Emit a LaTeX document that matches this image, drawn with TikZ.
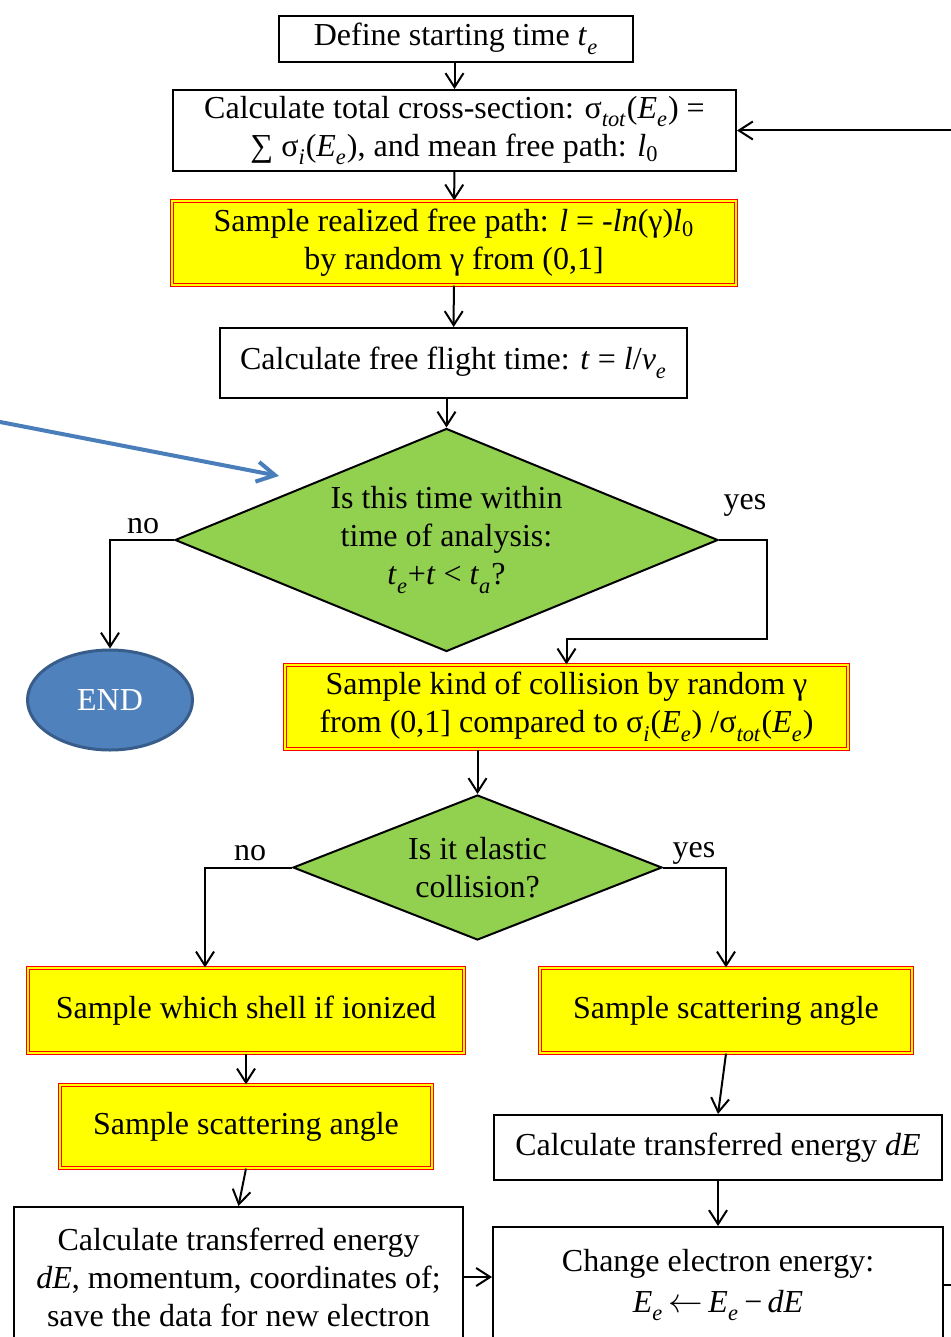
\documentclass[tikz,border=0pt]{standalone}
\usepackage{fontspec}
\setmainfont{Liberation Serif}
\usepackage{tikz}
\usetikzlibrary{arrows.meta,positioning,shapes,calc}
\definecolor{hlyellow}{HTML}{FFFF00}
\definecolor{decgreen}{HTML}{92D050}
\definecolor{endblue}{HTML}{4F81BD}
\definecolor{endrim}{HTML}{385D8A}
\definecolor{ptrblue}{HTML}{4A7EBB}
\newcommand{\isub}[1]{\raisebox{-0.1em}{\textsubscript{\textit{#1}}}}
\newcommand{\iv}[1]{\textit{#1}}

\begin{document}
\begin{tikzpicture}[x=0.5pt,y=-0.5pt,>={Straight Barb[length=7pt,width=9pt]}, every node/.style={font=\fontsize{16}{19}\selectfont}]
\tikzstyle{box}=[draw,line width=1pt,align=center,inner sep=0pt]
\tikzstyle{sbox}=[draw=red,line width=0.6pt,double=hlyellow,double distance=1.1pt,fill=hlyellow,align=center,inner sep=0pt]
\tikzstyle{dec}=[diamond,draw,line width=1pt,fill=decgreen,align=center,inner sep=0pt]
\tikzstyle{lbl}=[inner sep=0pt]
\tikzstyle{link}=[->,line width=1pt]
\path[use as bounding box,clip] (0,0) rectangle (951,1337);
% main column
\node[box,minimum width=177pt,minimum height=23pt] (start) at (456,39) {Define starting time \iv{t}\isub{e}};
\node[box,minimum width=281.5pt,minimum height=40.5pt] (xsec) at (454.5,130.5) {Calculate total cross-section: σ\isub{tot}(\iv{E}\isub{e}) =\\∑ σ\isub{i}(\iv{E}\isub{e}), and mean free path: \iv{l}\textsubscript{0}};
\node[sbox,minimum width=282pt,minimum height=42pt] (fpath) at (454,243) {Sample realized free path: \iv{l} = -\iv{ln}(γ)\iv{l}\textsubscript{0}\\by random γ from (0,1]};
\node[box,minimum width=233.5pt,minimum height=35pt] (flight) at (453.5,363) {Calculate free flight time: \iv{t} = \iv{l}/\iv{v}\isub{e}};
\node[dec,aspect=2.43,minimum width=271.5pt,minimum height=111.5pt] (within) at (446.5,540) {Is this time within\\time of analysis:\\\iv{t}\isub{e}+\iv{t} {<} \iv{t}\isub{a}?};
\node[ellipse,draw=endrim,line width=1.5pt,fill=endblue,text=white,minimum width=82.5pt,minimum height=50pt] (stop) at (110,700) {END};
\node[sbox,minimum width=281.5pt,minimum height=42pt] (kind) at (566.5,707) {Sample kind of collision by random γ\\from (0,1] compared to σ\isub{i}(\iv{E}\isub{e}) /σ\isub{tot}(\iv{E}\isub{e})};
\node[dec,aspect=2.55,minimum width=184.5pt,minimum height=72.5pt] (elastic) at (477.5,867.5) {Is it elastic\\collision?};
% two branches
\node[sbox,minimum width=218pt,minimum height=42.5pt] (shell) at (246,1010.5) {Sample which shell if ionized};
\node[sbox,minimum width=186pt,minimum height=42.5pt] (angr) at (726,1010.5) {Sample scattering angle};
\node[sbox,minimum width=186pt,minimum height=41.5pt] (angl) at (246,1126.5) {Sample scattering angle};
\node[box,minimum width=224pt,minimum height=32.5pt] (dEr) at (718,1147.5) {Calculate transferred energy \iv{dE}};
\node[box,minimum width=225pt,minimum height=58pt] (change) at (718,1285) {Change electron energy:\\[1.5pt]\iv{E}\isub{e}\,$\leftarrow$\,\iv{E}\isub{e}\,−\,\iv{dE}};
\node[box,minimum width=224.5pt,minimum height=70pt] (data) at (238.5,1277) {Calculate transferred energy\\\iv{dE}, momentum, coordinates of;\\save the data for new electron};
% labels
\node[lbl] (no1) at (143,526) {no};
\node[lbl] (yes1) at (745,505) {yes};
\node[lbl] (no2) at (250,853) {no};
\node[lbl] (yes2) at (694,853) {yes};
\coordinate (ptr0) at (-5,421);
\coordinate (ptr1) at (279,476);
% connectors
\draw[link] (start.south -| xsec.north) -- (xsec.north);
\draw[link] (xsec) -- (fpath);
\draw[link] (fpath) -- (flight);
\draw[link] (within.north |- flight.south) -- (within.north);
\draw[link] (within.west) -| (stop.north);
\draw[link] (within.east) -- ++(48,0) |- ($(kind.north)+(0,-25)$) -- (kind.north);
\draw[link] (elastic.north |- kind.south) -- (elastic.north);
\draw[link] (elastic.west) -| ($(shell.north)+(-41,0)$);
\draw[link] (elastic.east) -| (angr.north);
\draw[link] (shell) -- (angl);
\draw[link] (angr.south) -- (dEr.north);
\draw[link] (dEr) -- (change);
\draw[link] (angl.south) -- (data.north);
\draw[link] (data.east) -- (data.east -| change.west);
\draw[link] (change.east) -- ++(40,0) |- (xsec.east);
\draw[->,>={Straight Barb[length=9pt,width=10pt]},ptrblue,line width=2pt] (ptr0) -- (ptr1);
\end{tikzpicture}
\end{document}
